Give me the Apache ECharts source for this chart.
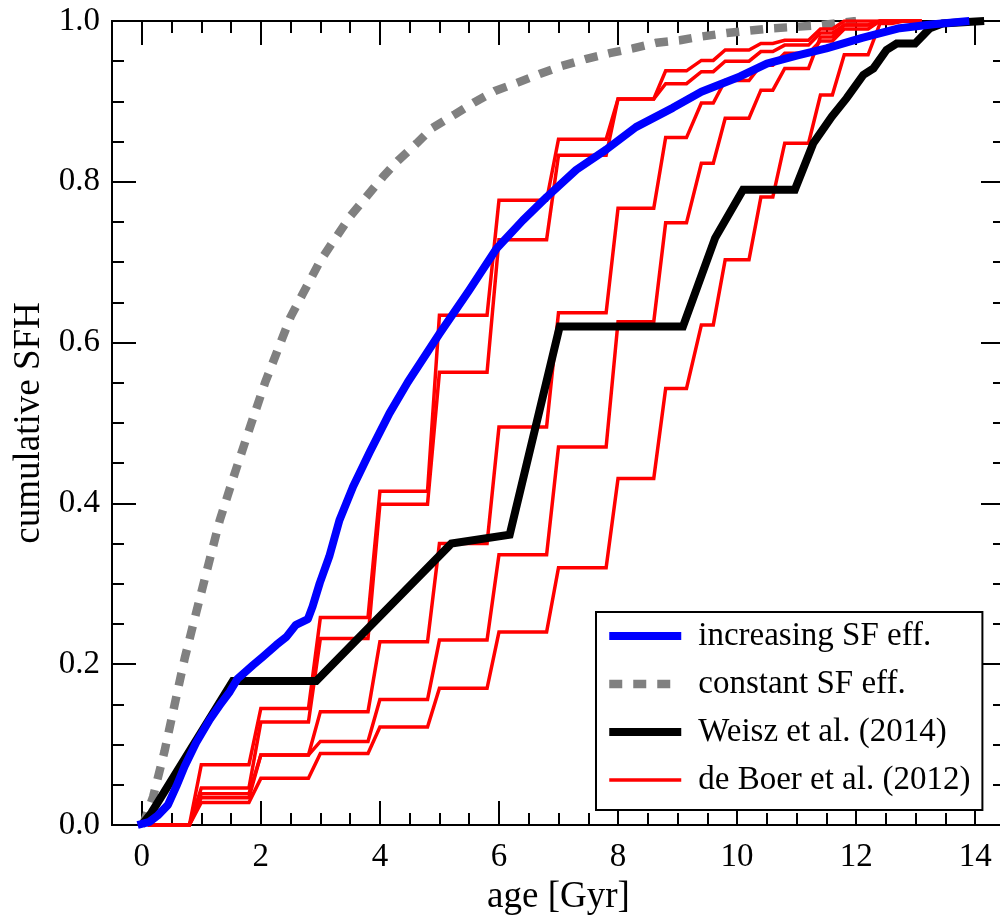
<!DOCTYPE html>
<html>
<head>
<meta charset="utf-8">
<title>cumulative SFH</title>
<script src="https://cdn.jsdelivr.net/npm/echarts@6/dist/echarts.min.js"></script>
<style>
  html, body { margin: 0; padding: 0; background: #fff; }
  #chart { width: 1000px; height: 916px; }
</style>
</head>
<body>
<div id="chart"></div>
<script>
// Axis ticks
const xMajorTicks = [0, 2, 4, 6, 8, 10, 12, 14];
const xMinorTicks = [0.5, 1, 1.5, 2.5, 3, 3.5, 4.5, 5, 5.5, 6.5, 7, 7.5, 8.5, 9, 9.5, 10.5, 11, 11.5, 12.5, 13, 13.5];

// Model: increasing star-formation efficiency [age, cumulative SFH]
const increasingSF = [
  [-0.07, 0], [0.13, 0.004], [0.27, 0.012], [0.44, 0.025], [0.58, 0.048], [0.72, 0.073],
  [0.91, 0.102], [1.14, 0.131], [1.31, 0.149], [1.48, 0.166], [1.61, 0.182], [1.87, 0.199],
  [2.03, 0.209], [2.26, 0.224], [2.43, 0.234], [2.59, 0.249], [2.79, 0.256], [2.87, 0.272],
  [2.99, 0.301], [3.15, 0.334], [3.32, 0.379], [3.55, 0.421], [3.83, 0.464], [4.16, 0.512],
  [4.47, 0.551], [5.0, 0.611], [5.5, 0.665], [5.96, 0.717], [6.4, 0.752], [6.8, 0.781],
  [7.3, 0.815], [7.8, 0.840], [8.3, 0.868], [8.92, 0.892], [9.4, 0.912], [10.05, 0.931],
  [10.5, 0.947], [11.0, 0.957], [11.5, 0.966], [12.1, 0.979], [12.73, 0.991], [13.3, 0.996],
  [13.9, 1.0]
];

// Model: constant star-formation efficiency
const constantSF = [
  [0.02, 0], [0.19, 0.035], [0.38, 0.091], [0.55, 0.149], [0.72, 0.207], [0.91, 0.263],
  [1.11, 0.321], [1.31, 0.379], [1.56, 0.437], [1.81, 0.493], [2.07, 0.550], [2.5, 0.632],
  [3.0, 0.702], [3.5, 0.757], [4.05, 0.806], [4.30, 0.826], [4.62, 0.848], [4.88, 0.867],
  [5.26, 0.884], [5.59, 0.899], [5.93, 0.913], [6.30, 0.923], [6.68, 0.934], [7.05, 0.944],
  [7.47, 0.953], [7.86, 0.960], [8.25, 0.966], [8.65, 0.973], [9.04, 0.976], [9.34, 0.980],
  [9.82, 0.985], [10.2, 0.988], [10.6, 0.991], [11.05, 0.993], [11.4, 0.995], [12.0, 1.0]
];

// Weisz et al. (2014)
const weisz2014 = [
  [0, 0], [0.16, 0.015], [1.53, 0.179], [2.93, 0.179], [5.2, 0.35], [6.18, 0.361],
  [7.02, 0.62], [9.09, 0.62], [9.63, 0.73], [10.1, 0.79], [10.97, 0.79], [11.28, 0.848],
  [11.59, 0.881], [11.84, 0.904], [12.12, 0.933], [12.29, 0.941], [12.51, 0.964],
  [12.68, 0.972], [12.99, 0.972], [13.24, 0.991], [13.45, 0.997], [14.15, 1.0]
];

// de Boer et al. (2012): age bins (start, end) and cumulative level in each bin
const deBoerBinStart = [0.1, 1.0, 2.0, 3.0, 4.0, 5.0, 6.0, 7.0, 8.0, 8.8, 9.4, 9.8, 10.4, 10.8, 11.4, 11.8, 12.4, 12.8];
const deBoerBinEnd   = [0.8, 1.8, 2.8, 3.8, 4.8, 5.8, 6.8, 7.8, 8.6, 9.15, 9.6, 10.2, 10.6, 11.2, 11.6, 12.2, 12.6, 13.1];
const deBoerA = [0, 0.075, 0.145, 0.258, 0.415, 0.634, 0.777, 0.853, 0.903, 0.938, 0.951, 0.964, 0.972, 0.976, 0.990, 1.0, 1.0, 1.0];
const deBoerB = [0, 0.046, 0.128, 0.232, 0.399, 0.563, 0.728, 0.833, 0.903, 0.922, 0.937, 0.950, 0.962, 0.970, 0.985, 0.995, 1.0, 1.0];
const deBoerC = [0, 0.039, 0.087, 0.141, 0.228, 0.350, 0.495, 0.637, 0.767, 0.855, 0.898, 0.926, 0.945, 0.960, 0.975, 0.990, 1.0, 1.0];
const deBoerD = [0, 0.034, 0.087, 0.104, 0.156, 0.230, 0.336, 0.470, 0.626, 0.749, 0.823, 0.879, 0.914, 0.941, 0.980, 0.995, 1.0, 1.0];
const deBoerE = [0, 0.028, 0.058, 0.089, 0.122, 0.170, 0.240, 0.320, 0.431, 0.543, 0.622, 0.703, 0.781, 0.848, 0.908, 0.958, 0.997, 1.0];

function stepPoints(levels) {
  const pts = [];
  for (let i = 0; i < levels.length; i++) {
    pts.push([deBoerBinStart[i], levels[i]]);
    pts.push([deBoerBinEnd[i], levels[i]]);
  }
  return pts;
}

const FONT = 'Liberation Serif';
const chart = echarts.init(document.getElementById('chart'), null, { renderer: 'canvas' });

function xAxisDef(position, ticks, len, withLabels) {
  return {
    type: 'value', position: position, min: -0.5, max: 14.5,
    axisLine: { show: true, onZero: false, lineStyle: { color: '#000', width: 2 } },
    axisTick: { show: true, inside: true, length: len, customValues: ticks, lineStyle: { color: '#000', width: 2 } },
    axisLabel: withLabels ? {
      show: true, customValues: ticks, margin: 16, color: '#000',
      fontFamily: FONT, fontSize: 33
    } : { show: false },
    splitLine: { show: false }
  };
}

const xAxes = [
  Object.assign(xAxisDef('bottom', xMajorTicks, 24, true), {
    name: 'age [Gyr]', nameLocation: 'middle', nameGap: 47,
    nameTextStyle: { fontFamily: FONT, fontSize: 37, color: '#000' }
  }),
  xAxisDef('bottom', xMinorTicks, 12, false),
  xAxisDef('top', xMajorTicks, 24, false),
  xAxisDef('top', xMinorTicks, 12, false)
];

function yAxisDef(position, withLabels) {
  return {
    type: 'value', position: position, min: 0, max: 1, interval: 0.2,
    axisLine: { show: true, onZero: false, lineStyle: { color: '#000', width: 2 } },
    axisTick: { show: true, inside: true, length: 24, lineStyle: { color: '#000', width: 2 } },
    minorTick: { show: true, splitNumber: 4, length: 12, lineStyle: { color: '#000', width: 2 } },
    axisLabel: withLabels ? {
      show: true, margin: 12, color: '#000', fontFamily: FONT, fontSize: 33,
      formatter: function (v) { return v.toFixed(1); }
    } : { show: false },
    splitLine: { show: false }, minorSplitLine: { show: false }
  };
}

const yAxes = [
  Object.assign(yAxisDef('left', true), {
    name: 'cumulative SFH', nameLocation: 'middle', nameGap: 55, nameRotate: 90,
    nameTextStyle: { fontFamily: FONT, fontSize: 37, color: '#000' }
  }),
  yAxisDef('right', false)
];

const redSets = [deBoerA, deBoerB, deBoerC, deBoerD, deBoerE];

const series = [
  {
    name: 'increasing SF eff.', type: 'line', data: increasingSF, z: 6,
    symbol: 'none', showSymbol: false, silent: true,
    lineStyle: { color: '#0000ff', width: 8, cap: 'butt', join: 'round' },
    itemStyle: { color: '#0000ff' }
  },
  {
    name: 'constant SF eff.', type: 'line', data: constantSF, z: 2,
    symbol: 'none', showSymbol: false, silent: true,
    lineStyle: { color: '#808080', width: 8.5, type: [13, 11], cap: 'butt' },
    itemStyle: { color: '#808080' }
  },
  {
    name: 'Weisz et al. (2014)', type: 'line', data: weisz2014, z: 5,
    symbol: 'none', showSymbol: false, silent: true,
    lineStyle: { color: '#000000', width: 8, cap: 'butt', join: 'miter' },
    itemStyle: { color: '#000000' }
  }
].concat(redSets.map(function (levels) {
  return {
    name: 'de Boer et al. (2012)', type: 'line', data: stepPoints(levels), z: 3,
    symbol: 'none', showSymbol: false, silent: true,
    lineStyle: { color: '#ff0000', width: 3.5, join: 'miter' },
    itemStyle: { color: '#ff0000' }
  };
}));

chart.setOption({
  animation: false,
  backgroundColor: '#fff',
  grid: { left: 112, right: -5, top: 21, bottom: 91, containLabel: false, outerBoundsMode: 'none' },
  xAxis: xAxes,
  yAxis: yAxes,
  legend: {
    data: ['increasing SF eff.', 'constant SF eff.', 'Weisz et al. (2014)', 'de Boer et al. (2012)'],
    orient: 'vertical', left: 596, top: 612,
    itemWidth: 72, itemHeight: 33, itemGap: 15,
    padding: [7.5, 12, 13.5, 9],
    borderColor: '#000', borderWidth: 2, borderRadius: 0,
    backgroundColor: '#fff',
    itemStyle: { opacity: 0 },
    lineStyle: { width: 'inherit', type: 'inherit', opacity: 1 },
    selectedMode: false,
    textStyle: { fontFamily: FONT, fontSize: 33, color: '#000', lineHeight: 33, padding: [0, 0, 0, 12] }
  },
  series: series
});
</script>
</body>
</html>
